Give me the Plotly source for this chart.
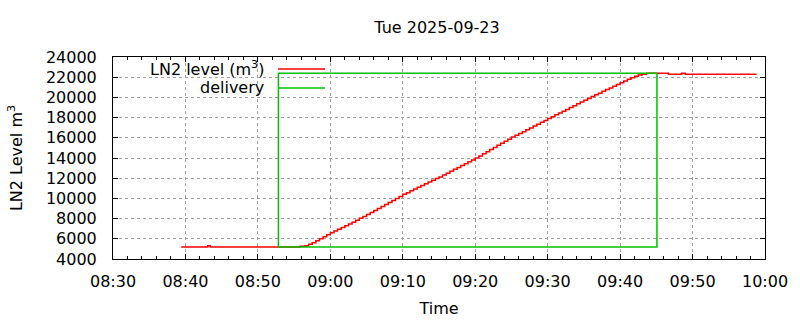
import plotly.graph_objects as go

DAY = "2025-09-23 "

# LN2 level (m^3), step data
level_times = [
    "08:39:25", "08:43:05", "08:43:25", "08:55:50", "08:56:30",
    "08:57:00", "08:57:30", "08:58:00", "08:58:30", "08:59:00", "08:59:30",
    "09:00:00", "09:00:30", "09:01:00", "09:01:30", "09:02:00", "09:02:30",
    "09:03:00", "09:03:30", "09:04:00", "09:04:30", "09:05:00", "09:05:30",
    "09:06:00", "09:06:30", "09:07:00", "09:07:30", "09:08:00", "09:08:30",
    "09:09:00", "09:09:30", "09:10:00", "09:10:30", "09:11:00", "09:11:30",
    "09:12:00", "09:12:30", "09:13:00", "09:13:30", "09:14:00", "09:14:30",
    "09:15:00", "09:15:30", "09:16:00", "09:16:30", "09:17:00", "09:17:30",
    "09:18:00", "09:18:30", "09:19:00", "09:19:30", "09:20:00", "09:20:30",
    "09:21:00", "09:21:30", "09:22:00", "09:22:30", "09:23:00", "09:23:30",
    "09:24:00", "09:24:30", "09:25:00", "09:25:30", "09:26:00", "09:26:30",
    "09:27:00", "09:27:30", "09:28:00", "09:28:30", "09:29:00", "09:29:30",
    "09:30:00", "09:30:30", "09:31:00", "09:31:30", "09:32:00", "09:32:30",
    "09:33:00", "09:33:30", "09:34:00", "09:34:30", "09:35:00", "09:35:30",
    "09:36:00", "09:36:30", "09:37:00", "09:37:30", "09:38:00", "09:38:30",
    "09:39:00", "09:39:30", "09:40:00", "09:40:30", "09:41:00", "09:41:30",
    "09:42:00", "09:42:30", "09:43:00", "09:43:40", "09:46:40", "09:48:30",
    "09:49:00", "09:58:50",
]
level_values = [
    5200, 5300, 5200, 5250, 5300,
    5450, 5620, 5800, 6000, 6200, 6400,
    6600, 6770, 6950, 7120, 7300, 7470,
    7650, 7840, 8030, 8210, 8400, 8600,
    8800, 9000, 9200, 9400, 9600, 9800,
    10000, 10200, 10400, 10570, 10750, 10920,
    11100, 11270, 11450, 11620, 11800, 11960,
    12120, 12310, 12500, 12690, 12880, 13060,
    13250, 13440, 13630, 13810, 14000, 14210,
    14420, 14620, 14830, 15040, 15250, 15450,
    15660, 15860, 16070, 16250, 16430, 16610,
    16800, 16980, 17170, 17350, 17530, 17710,
    17900, 18080, 18270, 18450, 18630, 18810,
    19000, 19180, 19370, 19550, 19730, 19900,
    20080, 20250, 20420, 20600, 20770, 20940,
    21110, 21280, 21450, 21630, 21800, 21950,
    22100, 22220, 22300, 22400, 22300, 22400,
    22300, 22300,
]

# delivery window (drawn as a box)
delivery_times = ["08:52:50", "08:52:50", "09:45:05", "09:45:05", "08:52:50"]
delivery_values = [5200, 22400, 22400, 5200, 5200]

x_range = ["08:30:00", "10:00:00"]
y_range = [4000, 24000]

title_text = "Tue 2025-09-23"
x_title = "Time"
y_title = "LN2 Level m<sup>3</sup>"
legend_labels = ["LN2 level (m<sup>3</sup>)", "delivery"]
red = "#ff0000"
green = "#00c000"

FONT = "DejaVu Sans"
FS = 16

fig = go.Figure()
fig.add_trace(go.Scatter(
    x=[DAY + t for t in level_times], y=level_values,
    mode="lines", line=dict(color=red, width=1.5, shape="hv"),
    name="LN2 level", showlegend=False, hoverinfo="skip"))
fig.add_trace(go.Scatter(
    x=[DAY + t for t in delivery_times], y=delivery_values,
    mode="lines", line=dict(color=green, width=1.5),
    name="delivery", showlegend=False, hoverinfo="skip"))

L, R, T, B = 113, 35, 57, 60.5
W, H = 800, 320
pw, ph = W - L - R, H - T - B

def px_x(p):
    return (p - L) / pw

def px_y(p):
    return (H - B - p) / ph

# opaque key box (covers grid)
fig.add_shape(type="rect", xref="paper", yref="paper",
              x0=px_x(124), x1=px_x(335), y0=px_y(98), y1=1,
              fillcolor="white", line=dict(width=0), layer="between")
# key entries
key_y = [69, 88]
key_colors = [red, green]
for lab, yy, col in zip(legend_labels, key_y, key_colors):
    fig.add_annotation(xref="paper", yref="paper", x=px_x(266), y=px_y(yy),
                       text=lab, showarrow=False, xanchor="right", yanchor="middle",
                       font=dict(family=FONT, size=FS, color="black"))
    fig.add_shape(type="line", xref="paper", yref="paper",
                  x0=px_x(278), x1=px_x(325), y0=px_y(yy), y1=px_y(yy),
                  line=dict(color=col, width=1.5), layer="above")

axis_common = dict(
    showline=True, linecolor="black", linewidth=1, mirror="ticks",
    ticks="inside", ticklen=5, tickcolor="black", tickwidth=1,
    showgrid=True, gridcolor="#a0a0a0", gridwidth=1, griddash="3px,3px",
    zeroline=False, tickfont=dict(family=FONT, size=FS, color="black"),
    automargin=False,
)

fig.update_xaxes(
    type="date", range=[DAY + x_range[0], DAY + x_range[1]],
    dtick=600000, tick0=DAY + "08:30:00", tickformat="%H:%M",
    minor=dict(ticks="inside", ticklen=3, dtick=120000, tickcolor="black", showgrid=False),
    title=dict(text=x_title, font=dict(family=FONT, size=FS, color="black"), standoff=12),
    ticklabelstandoff=8,
    **axis_common)
fig.update_yaxes(
    range=y_range, dtick=2000, tick0=4000, tickformat="d",
    title=dict(text=y_title, font=dict(family=FONT, size=FS, color="black"), standoff=19),
    ticklabelstandoff=12,
    **axis_common)

fig.update_layout(
    width=W, height=H,
    margin=dict(l=L, r=R, t=T, b=B, autoexpand=False),
    paper_bgcolor="white", plot_bgcolor="white",
    title=dict(text=title_text, x=437 / W, xanchor="center",
               y=1 - 27 / H, yanchor="middle", yref="container",
               font=dict(family=FONT, size=FS, color="black")),
    font=dict(family=FONT, size=FS, color="black"),
)

fig.write_html("out.html")
